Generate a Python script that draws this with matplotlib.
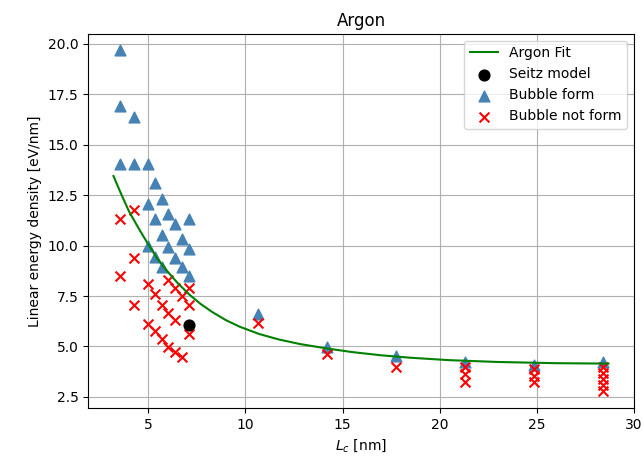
import matplotlib
matplotlib.use("Agg")
import matplotlib.pyplot as plt

# fitted curve
fit_x = [3.2, 3.6, 4.0, 4.5, 5.0, 5.5, 6.0, 6.5, 7.1, 7.7, 8.3, 9.0, 9.7,
         10.7, 11.7, 12.8, 14.2, 15.5, 17.0, 18.5, 20.5, 23.0, 26.0, 28.7]
fit_y = [13.45, 12.55, 11.7, 10.85, 10.05, 9.3, 8.7, 8.15, 7.58, 7.1, 6.7,
         6.3, 5.98, 5.62, 5.35, 5.12, 4.9, 4.72, 4.56, 4.44, 4.32, 4.23,
         4.17, 4.15]

seitz_x = [7.1]
seitz_y = [6.05]

form_x = [3.55, 3.55, 4.26, 3.55, 4.26, 4.97, 5.325, 4.97, 5.68, 5.325,
          6.035, 6.39, 7.1, 5.68, 6.745, 4.97, 6.035, 7.1, 5.325, 6.39,
          5.68, 6.745, 7.1, 10.65, 14.2, 17.75, 21.3, 24.85, 28.4]
form_y = [19.7, 16.9, 16.4, 14.05, 14.05, 14.05, 13.1, 12.05, 12.3, 11.3,
          11.55, 11.05, 11.3, 10.55, 10.35, 10.0, 9.95, 9.85, 9.45, 9.4,
          8.95, 8.95, 8.5, 6.6, 4.95, 4.55, 4.25, 4.1, 4.25]

noform_x = [3.55, 4.26, 4.26, 3.55, 4.97, 6.035, 6.39, 7.1, 5.325, 6.745,
            4.26, 5.68, 7.1, 6.035, 6.39, 4.97, 5.325, 7.1, 5.68, 6.035,
            6.39, 6.745, 10.65, 14.2, 17.75, 21.3, 21.3, 21.3, 24.85, 24.85,
            24.85, 28.4, 28.4, 28.4, 28.4, 28.4]
noform_y = [11.3, 11.75, 9.4, 8.5, 8.1, 8.3, 7.9, 7.9, 7.6, 7.5,
            7.05, 7.05, 7.05, 6.65, 6.3, 6.1, 5.75, 5.6, 5.35, 4.95,
            4.7, 4.5, 6.15, 4.65, 4.0, 4.0, 3.65, 3.25, 3.9, 3.55,
            3.25, 4.0, 3.7, 3.4, 3.1, 2.8]

fig, ax = plt.subplots(figsize=(6.44, 4.70), dpi=100)
fig.subplots_adjust(left=0.137, right=0.984, top=0.928, bottom=0.132)

ax.plot(fit_x, fit_y, color="green", label="Argon Fit", zorder=4)
ax.scatter(seitz_x, seitz_y, color="black", s=60, label="Seitz model", zorder=3)
ax.scatter(form_x, form_y, color="steelblue", marker="^", s=60,
           label="Bubble form", zorder=2)
ax.scatter(noform_x, noform_y, color="red", marker="x", s=50,
           label="Bubble not form", zorder=2)

ax.set_xlim(1.9, 30.0)
ax.set_ylim(1.95, 20.5)
ax.set_xlabel("$L_c$ [nm]")
ax.set_ylabel("Linear energy density [eV/nm]")
ax.set_title("Argon")
ax.grid(True)
ax.legend(loc="upper right")

fig.savefig("out.png", dpi=100)
